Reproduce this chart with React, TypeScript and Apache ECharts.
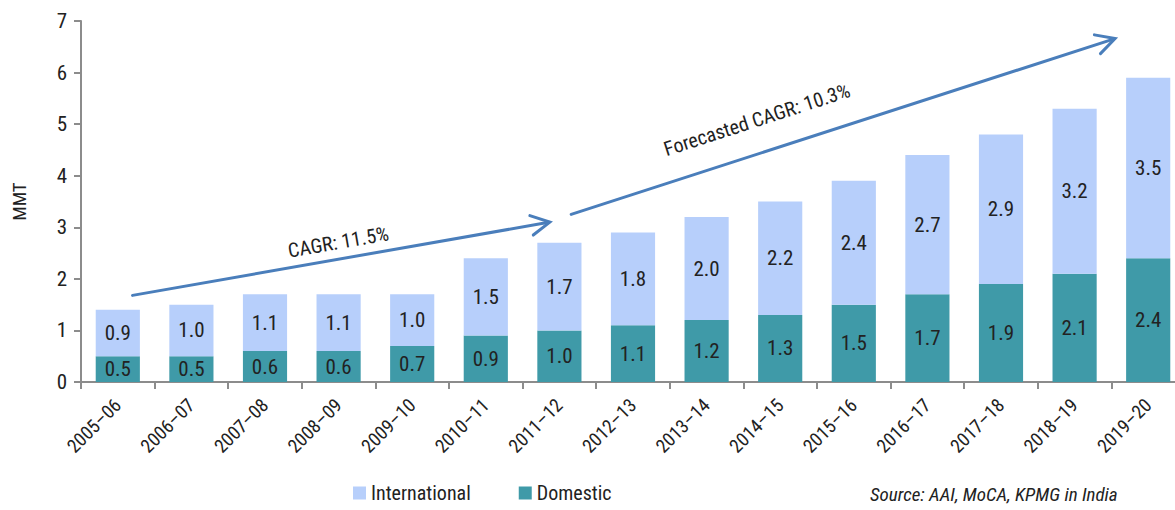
import React, { useEffect, useRef } from "react";
import * as echarts from "echarts";

// Air cargo volumes in India (million metric tonnes), actual and forecast
const years = [
  "2005–06", "2006–07", "2007–08", "2008–09", "2009–10", "2010–11", "2011–12", "2012–13",
  "2013–14", "2014–15", "2015–16", "2016–17", "2017–18", "2018–19", "2019–20",
];
const domestic = [0.5, 0.5, 0.6, 0.6, 0.7, 0.9, 1.0, 1.1, 1.2, 1.3, 1.5, 1.7, 1.9, 2.1, 2.4];
const international = [0.9, 1.0, 1.1, 1.1, 1.0, 1.5, 1.7, 1.8, 2.0, 2.2, 2.4, 2.7, 2.9, 3.2, 3.5];
const yMax = 7;
const yStep = 1;

// Growth arrows, anchored in data space: [fractional category index, MMT]
const growthArrows = [
  { label: "CAGR: 11.5%", from: [0.2, 1.68], to: [5.87, 3.1], at: 0.5, lift: 17 },
  { label: "Forecasted CAGR: 10.3%", from: [6.16, 3.25], to: [13.55, 6.66], at: 0.36, lift: 33 },
];
const sourceNote = "Source: AAI, MoCA, KPMG in India";

const FONT = '"Roboto Condensed", "Liberation Sans Narrow", "DejaVu Sans Condensed", Roboto, sans-serif';
const INTL_COLOR = "#b7cffb";
const DOM_COLOR = "#3f9aa8";
const ARROW_COLOR = "#4a7ebb";
const AXIS_COLOR = "#8c8c8c";
const TEXT_COLOR = "#222";

export default function App() {
  const ref = useRef<HTMLDivElement>(null);

  useEffect(() => {
    if (!ref.current) return;
    const chart = echarts.init(ref.current, undefined, { renderer: "svg" });

    const barLabel = {
      show: true,
      position: "inside",
      color: TEXT_COLOR,
      fontFamily: FONT,
      fontSize: 21,
      formatter: (p: any) => Number(p.value).toFixed(1),
    };

    chart.setOption({
      animation: false,
      textStyle: { fontFamily: FONT },
      grid: { left: 81, right: -10, top: 21, bottom: 128, outerBoundsMode: "none" },
      legend: {
        left: 351,
        top: 481,
        padding: 2,
        icon: "rect",
        itemWidth: 13,
        itemHeight: 13,
        itemGap: 48,
        textStyle: { fontFamily: FONT, fontSize: 20, color: TEXT_COLOR },
        data: ["International", "Domestic"],
      },
      xAxis: {
        type: "category",
        data: years,
        axisLine: { lineStyle: { color: AXIS_COLOR, width: 2 } },
        axisTick: { show: true, length: 7, lineStyle: { color: AXIS_COLOR, width: 2 } },
        axisLabel: { rotate: 45, color: TEXT_COLOR, fontFamily: FONT, fontSize: 19, margin: 20, interval: 0 },
      },
      yAxis: {
        type: "value",
        min: 0,
        max: yMax,
        interval: yStep,
        name: "MMT",
        nameLocation: "middle",
        nameRotate: 90,
        nameGap: 52,
        nameTextStyle: { fontFamily: FONT, fontSize: 19, color: TEXT_COLOR },
        axisLine: { show: true, lineStyle: { color: AXIS_COLOR, width: 2 } },
        axisTick: { show: true, length: 7, lineStyle: { color: AXIS_COLOR, width: 2 } },
        axisLabel: { color: TEXT_COLOR, fontFamily: FONT, fontSize: 21, margin: 14 },
        splitLine: { show: false },
      },
      series: [
        {
          name: "Domestic",
          type: "bar",
          stack: "cargo",
          barWidth: "60%",
          data: domestic,
          itemStyle: { color: DOM_COLOR },
          label: barLabel,
        },
        {
          name: "International",
          type: "bar",
          stack: "cargo",
          barWidth: "60%",
          data: international,
          itemStyle: { color: INTL_COLOR },
          label: barLabel,
        },
      ],
    });

    // Category axis snaps to whole indices, so interpolate between two band centres
    const c0 = chart.convertToPixel({ gridIndex: 0 }, [0, 0]) as number[];
    const c1 = chart.convertToPixel({ gridIndex: 0 }, [1, 0]) as number[];
    const band = c1[0] - c0[0];
    const toPx = (d: number[]) => {
      const py = chart.convertToPixel({ yAxisIndex: 0 }, d[1]) as number;
      return [c0[0] + d[0] * band, py];
    };

    // Arrows and their captions
    const graphics: any[] = [];
    growthArrows.forEach((a, k) => {
      const p1 = toPx(a.from);
      const p2 = toPx(a.to);
      const dx = p2[0] - p1[0];
      const dy = p2[1] - p1[1];
      const len = Math.hypot(dx, dy);
      const ux = dx / len;
      const uy = dy / len;
      const head = 21;
      const spread = (28 * Math.PI) / 180;
      const wing = (s: number) => {
        const c = Math.cos(s);
        const sn = Math.sin(s);
        const bx = -ux * c + uy * sn;
        const by = -uy * c - ux * sn;
        return [p2[0] + bx * head, p2[1] + by * head];
      };
      const lineStyle = { stroke: ARROW_COLOR, lineWidth: 3, fill: null, lineCap: "round", lineJoin: "miter" };
      graphics.push({
        type: "line",
        id: `arrow-${k}`,
        shape: { x1: p1[0], y1: p1[1], x2: p2[0] - ux, y2: p2[1] - uy },
        style: lineStyle,
        z: 10,
      });
      graphics.push({
        type: "polyline",
        id: `head-${k}`,
        shape: { points: [wing(spread), p2, wing(-spread)] },
        style: lineStyle,
        z: 10,
      });
      // caption sits on the upper side of the arrow, rotated to follow it
      const angle = Math.atan2(-dy, dx);
      const perpX = dy / len;
      const perpY = -dx / len;
      const sgn = perpY < 0 ? 1 : -1;
      const cx = p1[0] + dx * a.at;
      const cy = p1[1] + dy * a.at;
      graphics.push({
        type: "text",
        id: `caption-${k}`,
        x: cx + perpX * a.lift * sgn,
        y: cy + perpY * a.lift * sgn,
        rotation: angle,
        style: {
          text: a.label,
          fill: TEXT_COLOR,
          font: `20px ${FONT}`,
          align: "center",
          verticalAlign: "middle",
        },
        z: 10,
      });
    });
    graphics.push({
      type: "text",
      id: "source",
      left: 870,
      top: 485,
      style: {
        text: sourceNote,
        fill: TEXT_COLOR,
        font: `italic 19px ${FONT}`,
      },
    });
    chart.setOption({ graphic: graphics });

    return () => chart.dispose();
  }, []);

  return (
    <div style={{ position: "fixed", left: 0, top: 0, width: 1175, height: 510, overflow: "hidden", background: "#fff" }}>
      <div ref={ref} style={{ width: 1175, height: 510 }} />
    </div>
  );
}
